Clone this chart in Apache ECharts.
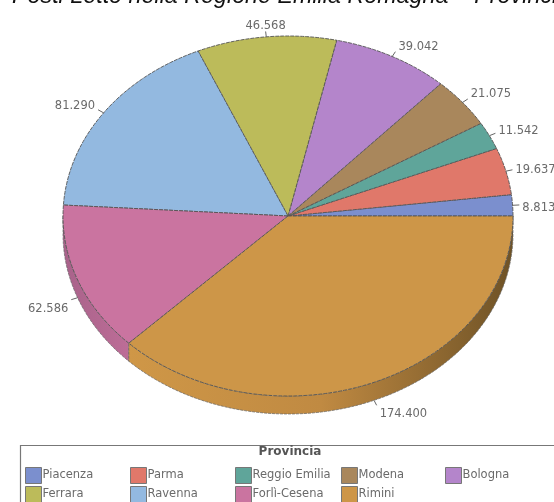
<!DOCTYPE html>
<html><head><meta charset="utf-8">
<style>html,body{margin:0;padding:0;background:#fff;overflow:hidden}#c{width:554px;height:502px;filter:blur(0.3px)}</style>
<script src="https://cdn.jsdelivr.net/npm/echarts@6/dist/echarts.min.js"></script>
</head><body><div id="c"></div>
<script>
const categories = ['Piacenza','Parma','Reggio Emilia','Modena','Bologna','Ferrara','Ravenna','Forlì-Cesena','Rimini'];
const values = [8813,19637,11542,21075,39042,46568,81290,62586,174400];
const colors = ['#7b8fce','#e0786a','#5fa59a','#a9875c','#b485cb','#bcbb5a','#93b9e0','#ca74a0','#cd9648'];
const sideStops = {7:['#a8628a','#bd6d97'],8:['#cf9747','#c08a42','#6e5226']};

const CX=288, CY=216, RX=225, RY=180, DEPTH=18;
const total = values.reduce((a,b)=>a+b,0);
const fmt = v => String(v).replace(/\B(?=(\d{3})+$)/g,'.');
const pt = (deg,dy=0,k=1)=>[CX+RX*k*Math.cos(deg*Math.PI/180), CY-RY*k*Math.sin(deg*Math.PI/180)+dy];
const arc = (a,b,dy=0)=>{const n=Math.max(2,Math.ceil(Math.abs(b-a)));const r=[];for(let i=0;i<=n;i++)r.push(pt(a+(b-a)*i/n,dy));return r;};
const EDGE={stroke:'#555',lineWidth:0.9,lineDash:[4,1]};

function renderSlice(idx){
  const before = values.slice(0,idx).reduce((a,b)=>a+b,0);
  const a0 = before/total*360, a1=(before+values[idx])/total*360, mid=(a0+a1)/2;
  const ch=[];
  const s0=Math.max(a0,180), s1=Math.min(a1,360);
  if(s1>s0){
    const top=arc(s0,s1), bot=arc(s1,s0,DEPTH);
    const stops=sideStops[idx]||[colors[idx],colors[idx]];
    ch.push({type:'polygon',z2:1,shape:{points:top.concat(bot)},style:{
      fill:new echarts.graphic.LinearGradient(0,0,1,0,stops.map((c,i)=>({offset:i/(stops.length-1),color:c}))),
      stroke:'#666',lineWidth:0.7,lineDash:[3,1]}});
  }
  ch.push({type:'polygon',z2:2,shape:{points:[[CX,CY]].concat(arc(a0,a1))},style:Object.assign({fill:colors[idx]},EDGE)});
  // leader and value label
  const dy = mid>180?DEPTH:0;
  const p0=pt(mid,dy), p1=pt(mid,dy,1.03);
  ch.push({type:'line',z2:3,shape:{x1:p0[0],y1:p0[1],x2:p1[0],y2:p1[1]},style:{stroke:'#666',lineWidth:1}});
  const c=Math.cos(mid*Math.PI/180), s=Math.sin(mid*Math.PI/180);
  const align=c>0.25?'left':c<-0.25?'right':'center';
  const tx=p1[0]+(align==='left'?3:align==='right'?-3:0), ty=p1[1]+Math.max(-5,Math.min(9,4-14*s));
  ch.push({type:'text',z2:3,style:{text:fmt(values[idx]),x:tx,y:ty,fill:'#6a6a6a',font:'11.5px "DejaVu Sans"',align:align,verticalAlign:'middle'}});
  return {type:'group',children:ch};
}

const series = categories.map((name,i)=>({
  name,type:'custom',coordinateSystem:'none',silent:true,animation:false,
  itemStyle:{color:colors[i]},data:[values[i]],z:i,
  renderItem:()=>renderSlice(i)
}));

const COL_X=[25,130,235,341,445], ROW_Y=[467,486];
const legends=categories.map((name,i)=>({
  left:COL_X[i%5],top:ROW_Y[Math.floor(i/5)],padding:0,itemWidth:16,itemHeight:16,
  icon:'rect',selectedMode:false,
  itemStyle:{borderColor:'#777',borderWidth:1},
  textStyle:{color:'#6a6a6a',fontFamily:'DejaVu Sans',fontSize:11.5,padding:[1,0,0,-4]},
  data:[name]
}));

const chart=echarts.init(document.getElementById('c'),null,{renderer:'canvas'});
chart.setOption({
  animation:false,backgroundColor:'#fff',
  title:{text:'Posti Letto nella Regione Emilia Romagna – Provincia',left:12,top:-15,padding:0,
    textStyle:{fontFamily:'Liberation Sans',fontStyle:'italic',fontWeight:'normal',fontSize:23.3,color:'#111'}},
  legend:legends,
  graphic:[
    {type:'rect',shape:{x:20.5,y:445.5,width:560,height:80},style:{fill:'none',stroke:'#777',lineWidth:1.2},z:-1},
    {type:'text',style:{text:'Provincia',x:290,y:452,align:'center',verticalAlign:'middle',font:'bold 12px "DejaVu Sans"',fill:'#555'}}
  ],
  series
});
</script></body></html>
